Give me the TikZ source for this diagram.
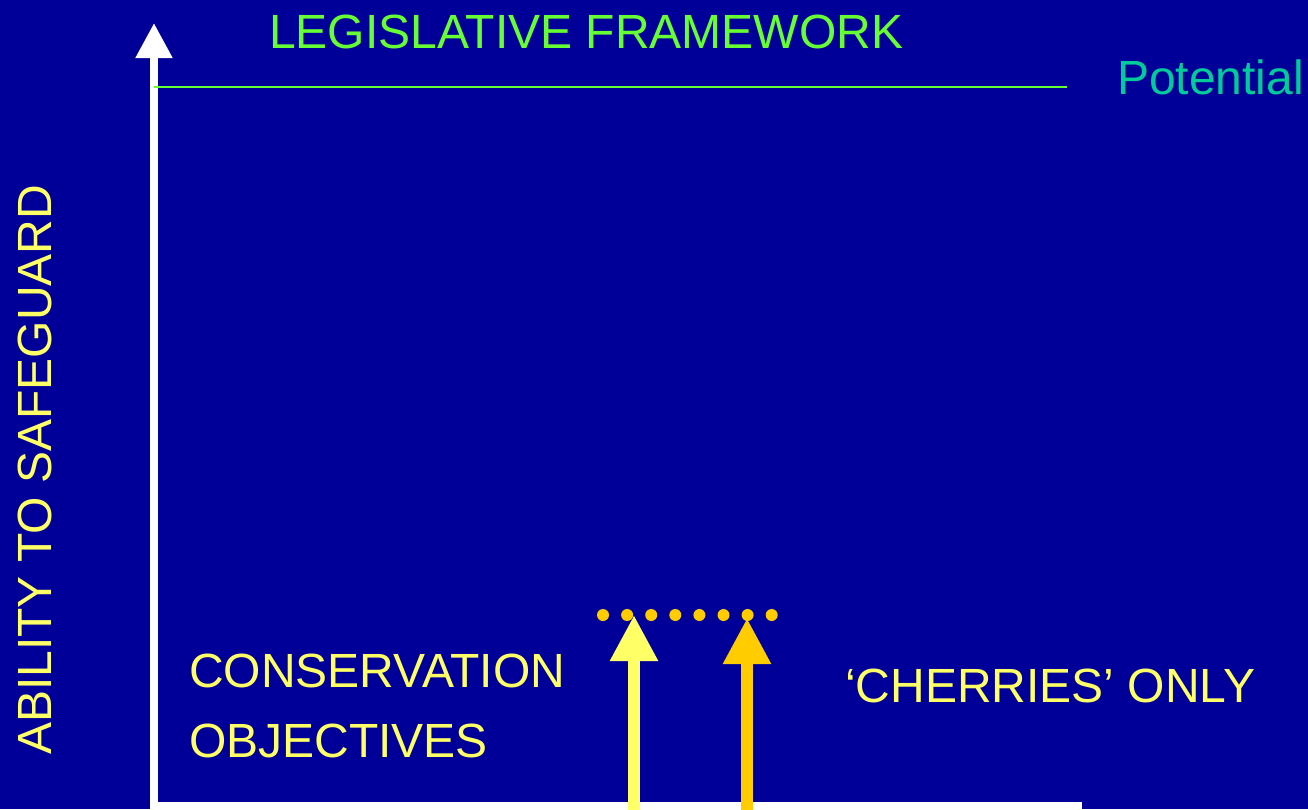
\documentclass[tikz,border=0pt]{standalone}
\usepackage{fontspec}
\setmainfont{Liberation Sans}
\usetikzlibrary{arrows.meta}
\definecolor{bgblue}{HTML}{000099}
\definecolor{legisgreen}{HTML}{66FF33}
\definecolor{potteal}{HTML}{00CC99}
\definecolor{paleyellow}{HTML}{FFFF66}
\definecolor{amber}{HTML}{FFCC00}
\tikzset{
  lbl/.style={inner sep=0pt, anchor=base west, font=\fontsize{48}{52}\selectfont},
  axisline/.style={white, line width=8pt},
  uparrow/.style={line width=12pt, -{Triangle[width=45pt,length=46pt]}},
  dot/.style={circle, fill=amber, inner sep=0pt, minimum size=12pt}
}
\begin{document}
\begin{tikzpicture}[x=1pt,y=-1pt]
  % canvas
  \fill[bgblue] (0,0) rectangle (1308,809);
  \useasboundingbox (0,0) rectangle (1308,809);

  % axes
  \coordinate (origin) at (154,805.5);
  \coordinate (ytop) at (154,23);
  \coordinate (xend) at (1082,805.5);
  \draw[axisline] (150,805.5) -- (xend);
  \draw[axisline, -{Triangle[width=35pt,length=35pt]}] (154,812) -- (ytop);

  % potential line
  \coordinate (potL) at (154,87);
  \coordinate (potR) at (1067,87);
  \draw[legisgreen, line width=1.5pt] (potL) -- (potR);

  % labels
  \node[lbl, text=legisgreen] (legis) at (269,48) {LEGISLATIVE FRAMEWORK};
  \node[lbl, text=potteal] (pot) at (1117,94) {Potential};
  \node[lbl, text=paleyellow, rotate=90] (ability) at (51,755) {ABILITY TO SAFEGUARD};
  \node[lbl, text=paleyellow] (cons) at (189,687) {CONSERVATION};
  \node[lbl, text=paleyellow] (obj) at (189,757) {OBJECTIVES};
  \node[lbl, text=paleyellow] (cher) at (845,702) {`CHERRIES' ONLY};

  % the two rising arrows
  \coordinate (a1base) at (634,812);
  \coordinate (a1tip) at (634,615);
  \coordinate (a2base) at (747,812);
  \coordinate (a2tip) at (747,618);
  \draw[uparrow, paleyellow] (a1base) -- (a1tip);
  \draw[uparrow, amber] (a2base) -- (a2tip);

  % dotted ceiling
  \foreach \i in {0,...,7}
    \node[dot] (d\i) at (603+24.1*\i,615) {};
\end{tikzpicture}
\end{document}
